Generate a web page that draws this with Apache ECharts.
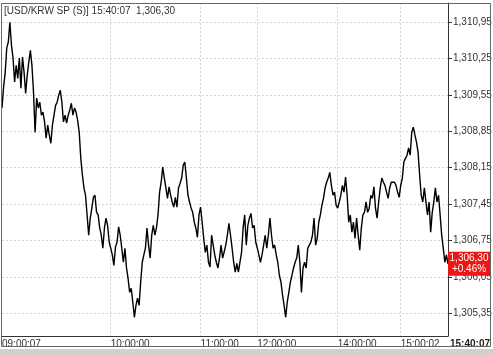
<!DOCTYPE html>
<html><head><meta charset="utf-8">
<script src="https://cdn.jsdelivr.net/npm/echarts@6/dist/echarts.min.js"></script>
<style>html,body{margin:0;padding:0;background:#fff}#c{width:493px;height:355px}</style>
</head><body><div id="c"></div>
<script>
const instrument = '[USD/KRW SP (S)]';
const lastTime = '15:40:07';
const changePct = '+0.46%';
const prices = [
1309.30,1309.70,1309.97,1310.45,1310.57,1310.95,1310.51,1310.26,1309.80,1310.12,
1309.87,1310.26,1309.68,1310.28,1309.99,1309.58,1309.93,1310.18,1310.41,1310.12,
1309.60,1308.83,1309.49,1309.30,1309.41,1309.16,1309.22,1309.03,1308.72,1308.97,
1308.78,1308.62,1308.97,1309.16,1309.35,1309.41,1309.55,1309.64,1309.41,1309.03,
1309.16,1309.01,1309.16,1309.26,1309.39,1309.16,1309.30,1309.22,1309.06,1308.83,
1308.33,1308.01,1307.76,1307.62,1307.24,1306.85,1307.18,1307.37,1307.58,1307.62,
1307.29,1307.24,1306.99,1306.85,1306.60,1306.99,1307.18,1307.04,1306.72,1306.60,
1306.47,1306.27,1306.62,1306.72,1307.01,1306.85,1306.60,1306.33,1306.60,1306.22,
1306.02,1305.75,1305.83,1305.56,1305.27,1305.50,1305.64,1305.50,1305.95,1306.33,
1306.47,1306.60,1306.99,1306.66,1306.41,1306.85,1307.04,1306.85,1306.99,1307.24,
1307.68,1307.87,1308.16,1307.95,1307.76,1307.56,1307.78,1307.62,1307.49,1307.39,
1307.58,1307.39,1307.76,1307.85,1307.95,1308.20,1308.26,1307.95,1307.62,1307.49,
1307.37,1307.29,1307.10,1306.99,1306.81,1307.24,1307.39,1307.10,1306.79,1306.52,
1306.66,1306.33,1306.24,1306.85,1306.66,1306.47,1306.33,1306.22,1306.41,1306.66,
1306.41,1306.41,1306.66,1306.85,1307.08,1306.85,1306.60,1306.33,1306.14,1306.31,
1306.14,1306.33,1306.52,1306.99,1307.24,1306.66,1307.04,1307.18,1307.27,1306.99,
1307.04,1306.72,1306.60,1306.47,1306.33,1306.47,1306.66,1306.85,1306.60,1306.85,
1307.18,1306.85,1306.60,1306.66,1306.47,1306.33,1306.08,1305.95,1305.70,1305.50,
1305.27,1305.56,1305.75,1305.95,1306.08,1306.22,1306.33,1306.41,1306.66,1306.33,
1305.75,1306.22,1306.33,1306.22,1306.60,1306.66,1306.72,1306.85,1307.18,1306.66,
1306.79,1307.10,1307.24,1307.43,1307.56,1307.76,1307.87,1307.95,1308.06,1307.81,
1307.62,1307.68,1307.43,1307.37,1307.49,1307.62,1307.81,1307.68,1307.97,1307.62,
1307.10,1307.24,1306.91,1307.10,1306.79,1307.18,1306.85,1306.56,1306.99,1307.24,
1307.29,1307.49,1307.29,1307.37,1307.62,1307.56,1307.78,1307.37,1307.18,1307.49,
1307.76,1307.95,1307.87,1307.81,1307.68,1307.56,1307.76,1307.87,1307.85,1307.87,
1307.81,1307.68,1307.58,1307.81,1307.95,1308.26,1308.33,1308.39,1308.53,1308.39,
1308.83,1308.93,1308.78,1308.64,1308.45,1308.01,1307.62,1307.49,1307.76,1307.49,
1307.24,1307.49,1306.91,1307.29,1307.49,1307.76,1307.49,1307.62,1307.24,1306.85,
1306.60,1306.33,1306.47,1306.30
];
const yTicks = [1305.35,1306.05,1306.75,1307.45,1308.15,1308.85,1309.55,1310.25,1310.95];
const timeTickIndex = [0, 69, 126, 162, 213, 253, 283];
const timeTickLabel = ['09:00:07','10:00:00','11:00:00','12:00:00','14:00:00','15:00:02','15:40:07'];

function fmt(v){
  const s = v.toFixed(2).split('.');
  return s[0].replace(/\B(?=(\d{3})+(?!\d))/g, ',') + ',' + s[1];
}
const cats = prices.map((_, i) => String(i));
const isTimeTick = (i) => timeTickIndex.indexOf(i) >= 0;
const last = prices[prices.length - 1];

const chart = echarts.init(document.getElementById('c'), null, {renderer: 'canvas'});
const FONT = 'Liberation Sans';
chart.setOption({
  animation: false,
  backgroundColor: '#fff',
  textStyle: {fontFamily: FONT},
  title: {
    text: instrument + ' ' + lastTime + '  ' + fmt(last),
    left: 4, top: 6, padding: 0,
    textStyle: {fontSize: 10, fontWeight: 'normal', color: '#333', fontFamily: FONT}
  },
  grid: {left: 2, right: 45, top: 3, bottom: 19, containLabel: false, outerBoundsMode: 'none'},
  xAxis: {
    type: 'category', data: cats, boundaryGap: false,
    axisLine: {lineStyle: {color: '#333', width: 1}},
    axisTick: {show: false},
    axisLabel: {
      interval: (i) => isTimeTick(i),
      formatter: (v, i) => {
        const k = timeTickIndex.indexOf(Number(v));
        if (k < 0) return '';
        return k === timeTickIndex.length - 1 ? '{b|' + timeTickLabel[k] + '}' : timeTickLabel[k];
      },
      align: 'left', margin: 3, fontSize: 10, color: '#333', fontFamily: FONT,
      rich: {b: {fontWeight: 'bold', fontSize: 10, color: '#222', fontFamily: FONT, padding: [0,0,0,2]}}
    },
    splitLine: {show: true, interval: (i) => isTimeTick(i) && i !== 0 && i !== prices.length - 1,
      lineStyle: {color: '#d4d4d4', type: [2, 2], width: 1}}
  },
  yAxis: {
    type: 'value', position: 'right', min: 1304.91, max: 1311.32, scale: true,
    axisLine: {show: true, lineStyle: {color: '#333', width: 1}},
    axisTick: {show: true, length: 4, customValues: yTicks, lineStyle: {color: '#333'}},
    axisLabel: {customValues: yTicks, formatter: (v) => fmt(v), margin: 5, fontSize: 10,
      color: '#333', fontFamily: FONT},
    splitLine: {show: true, lineStyle: {color: '#d4d4d4', type: [2, 2], width: 1}}
  },
  series: [{
    type: 'line', data: prices, showSymbol: false, symbol: 'none',
    lineStyle: {color: '#000', width: 1.4},
    endLabel: {
      show: true, distance: 0,
      formatter: (p) => '{a|' + fmt(p.value) + '}\n{a|' + changePct + '}',
      backgroundColor: '#ee1515', padding: [1, 2, 1, 2],
      rich: {a: {color: '#fff', fontSize: 10, lineHeight: 11, width: 38, align: 'center', fontFamily: FONT}}
    }
  }],
  graphic: [
    {type: 'rect', shape: {x: 1.5, y: 3.5, width: 489, height: 343}, style: {fill: null, stroke: '#666', lineWidth: 1}, silent: true, z: 100},
    {type: 'rect', shape: {x: 0, y: 349, width: 493, height: 6}, style: {fill: '#d4d0c8'}, silent: true}
  ]
});
</script></body></html>
